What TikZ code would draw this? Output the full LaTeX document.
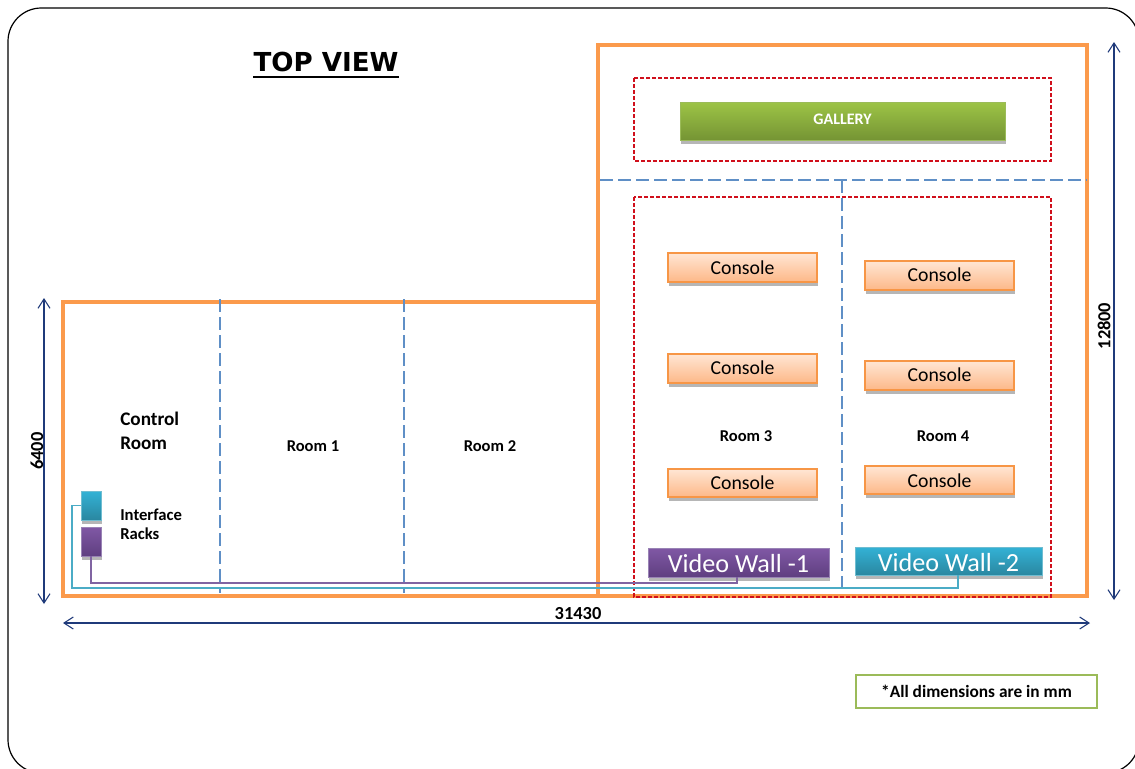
\documentclass[tikz,border=0pt]{standalone}
\usepackage{fontspec}
\setmainfont{Carlito}
\newfontfamily\headfont{DejaVu Sans}
\usetikzlibrary{arrows.meta,shadows}
\definecolor{frameorange}{HTML}{F79646}
\definecolor{wallorange}{HTML}{FB9A4C}
\definecolor{navyline}{HTML}{1F3A7A}
\definecolor{dashblue}{HTML}{5F8FC6}
\definecolor{reddash}{HTML}{D0101C}
\definecolor{tealwire}{HTML}{4BACC6}
\definecolor{purplewire}{HTML}{8064A2}
\definecolor{notegreen}{HTML}{9BBB59}
\newcommand{\pxbox}[7]{\node[#2,minimum width={(#5-#3)*0.75pt},minimum height={(#6-#4)*0.75pt}] (#1) at ({(#3+#5)/2},{(#4+#6)/2}) {#7};}
\newcommand{\shifttext}[2]{\raisebox{#1}[\height][\depth]{#2}}
\tikzset{
  x=0.75pt,y=-0.75pt,
  softshadow/.style={drop shadow={shadow xshift=0.5pt,shadow yshift=-2.8pt,fill=black!38,opacity=.75}},
  basebox/.style={inner sep=0pt,outer sep=0pt,align=center,softshadow},
  consolebox/.style={basebox,draw=frameorange,line width=1.5pt,top color={rgb,255:red,255;green,230;blue,212},bottom color={rgb,255:red,253;green,184;blue,136},font=\fontsize{14.8}{17}\selectfont,text=black},
  gallerybox/.style={basebox,draw=notegreen,line width=.4pt,top color={rgb,255:red,157;green,196;blue,70},bottom color={rgb,255:red,117;green,148;blue,52},font=\bfseries\fontsize{12}{14}\selectfont,text=white},
  wallpurple/.style={basebox,draw=purplewire!80,line width=.6pt,top color={rgb,255:red,128;green,88;blue,165},bottom color={rgb,255:red,95;green,63;blue,128},font=\fontsize{19.6}{22}\selectfont,text=white},
  wallteal/.style={basebox,draw=tealwire!80,line width=.6pt,top color={rgb,255:red,51;green,178;blue,214},bottom color={rgb,255:red,42;green,135;blue,160},font=\fontsize{19.6}{22}\selectfont,text=white},
  txt/.style={font=\bfseries\fontsize{12.4}{15}\selectfont,text=black,inner sep=0pt,align=center},
  dimtxt/.style={font=\bfseries\fontsize{13.8}{16}\selectfont,text=black,inner sep=0pt},
  buildingwall/.style={draw=wallorange,line width=2.6pt,line join=miter},
  reddashed/.style={draw=reddash,line width=.85pt,dash pattern=on 3pt off 1.5pt},
  bluedashed/.style={draw=dashblue,line width=.9pt,dash pattern=on 10pt off 3.5pt},
  dimarrow/.style={draw=navyline,line width=.8pt,{Straight Barb[length=7pt,width=9pt]}-{Straight Barb[length=7pt,width=9pt]}},
  wirea/.style={draw=tealwire,line width=.9pt},
  wireb/.style={draw=purplewire,line width=.9pt},
}
\begin{document}
\begin{tikzpicture}
\useasboundingbox (0,0) rectangle (1135,768);
\clip (0,0) rectangle (1135,768);
\fill[white] (0,0) rectangle (1135,768);
% sheet
\draw[black,line width=.9pt,rounded corners=25pt] (8,8) rectangle (1139,773);
% building
\draw[buildingwall] (63,302) -- (598,302) -- (598,45) -- (1087,45) -- (1087,596) -- (63,596) -- cycle;
\draw[buildingwall] (598,302) -- (598,596);
% dashed zones
\draw[reddashed] (634,78) rectangle (1051,161);
\draw[reddashed] (634,197) rectangle (1051,597);
% partitions
\coordinate (d1a) at (600,180); \coordinate (d1b) at (1087,180);
\coordinate (d2a) at (842,180); \coordinate (d2b) at (842,590);
\coordinate (d3a) at (220,299); \coordinate (d3b) at (220,593);
\coordinate (d4a) at (404,299); \coordinate (d4b) at (404,593);
\draw[bluedashed] (d1a) -- (d1b);
\draw[bluedashed] (d2a) -- (d2b);
\draw[bluedashed] (d3a) -- (d3b);
\draw[bluedashed] (d4a) -- (d4b);
% boxes
\pxbox{gallery}{gallerybox}{680}{102}{1005}{140}{\shifttext{1.2pt}{GALLERY}}
\pxbox{c1}{consolebox}{668}{253}{817}{282}{Console}
\pxbox{c2}{consolebox}{668}{354}{817}{383}{\shifttext{.3pt}{Console}}
\pxbox{c3}{consolebox}{668}{469}{817}{497}{Console}
\pxbox{c4}{consolebox}{865}{261}{1014}{290}{\shifttext{.3pt}{Console}}
\pxbox{c5}{consolebox}{865}{361}{1014}{390}{\shifttext{.3pt}{Console}}
\pxbox{c6}{consolebox}{865}{466}{1014}{494}{\shifttext{-.7pt}{Console}}
\pxbox{wall1}{wallpurple}{648}{548}{829}{577}{\shifttext{-.7pt}{Video Wall -1}}
\pxbox{wall2}{wallteal}{855}{547}{1042}{575}{\shifttext{-1.4pt}{Video Wall -2}}
\pxbox{rack1}{wallteal}{81}{491}{101}{520}{}
\pxbox{rack2}{wallpurple}{81}{527}{101}{556}{}
% wires
\coordinate (t1) at (72,588);
\coordinate (t2) at (958,575);
\coordinate (p1) at (91,583);
\coordinate (p2) at (737,577);
\draw[wirea] (rack1.west) -| (t1) -| (t2);
\draw[wireb] (rack2.south) -- (p1) -| (p2);
% dimensions
\coordinate (a1) at (44,298); \coordinate (a2) at (44,604);
\coordinate (b1) at (1114,42); \coordinate (b2) at (1114,600);
\coordinate (h1) at (63,623); \coordinate (h2) at (1090,623);
\draw[dimarrow] (a1) -- (a2);
\draw[dimarrow] (b1) -- (b2);
\draw[dimarrow] (h1) -- (h2);
\node[dimtxt,rotate=90] (l6400) at (37,451) {6400};
\node[dimtxt,rotate=90] (l12800) at (1104,326) {12800};
\node[dimtxt] (l31430) at (578,614) {31430};
% texts
\node[inner sep=0pt,font=\headfont\bfseries\fontsize{19.6}{23}\selectfont] (title) at (326,62) {TOP VIEW};
\draw[black,line width=1.5pt] ([yshift=-3.6pt]title.south west) -- ([yshift=-3.6pt]title.south east);
\node[txt,font=\bfseries\fontsize{14.4}{18}\selectfont,align=left,anchor=west] (ctrl) at (120,431) {Control\\Room};
\node[txt,align=left,anchor=west,font=\bfseries\fontsize{12.5}{14.5}\selectfont] (iface) at (120,524.5) {Interface\\Racks};
\node[txt] (r1) at (313,446) {Room 1};
\node[txt] (r2) at (490,446) {Room 2};
\node[txt] (r3) at (746,436) {Room 3};
\node[txt] (r4) at (943,436) {Room 4};
\node[draw=notegreen,line width=.9pt,minimum width={241*0.75pt},minimum height={33*0.75pt},inner sep=0pt,font=\bfseries\fontsize{13}{15}\selectfont] (note) at (976.5,691.5) {*All dimensions are in mm};
\end{tikzpicture}
\end{document}
